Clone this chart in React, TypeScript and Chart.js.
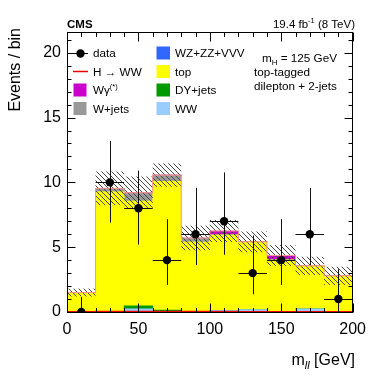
import React, { useEffect, useRef } from 'react';
import { Chart, registerables } from 'chart.js';

Chart.register(...registerables);

// ---- Data ----
const binEdges = [0, 20, 40, 60, 80, 100, 120, 140, 160, 180, 200];
const binCenters = [10, 30, 50, 70, 90, 110, 130, 150, 170, 190];
const dataCounts = [0, 10, 8, 4, 6, 7, 3, 4, 6, 1];
const dataErrUp = [1.15, 3.2, 2.9, 3.16, 3.58, 3.77, 2.9, 3.16, 3.58, 2.3];
const dataErrDown = [0, 3.1, 2.8, 1.91, 2.38, 2.58, 1.63, 1.91, 2.38, 0.83];

const wwBkg = [0.03, 0.03, 0.25, 0.05, 0.02, 0.12, 0.18, 0.05, 0.25, 0.05];
const dyJets = [0, 0.02, 0.23, 0.1, 0, 0, 0, 0, 0, 0];
const topBkg = [1.47, 9.23, 8.1, 9.95, 5.4, 5.83, 5.23, 3.97, 3.31, 2.74];
const vvBkg = [0, 0, 0, 0, 0, 0, 0, 0, 0, 0];
const wJets = [0, 0.26, 0.62, 0.46, 0.26, 0, 0, 0, 0, 0];
const wGamma = [0, 0, 0, 0, 0.03, 0.3, 0, 0.34, 0, 0];
const hwwSignal = [0.02, 0.04, 0.04, 0.03, 0.03, 0.03, 0.02, 0.02, 0.02, 0.01];
const bkgUnc = [0.3, 1.3, 1.25, 0.9, 0.95, 0.85, 0.8, 0.8, 0.7, 0.7];

const yTickValues = [0, 5, 10, 15, 20];
const xTickValues = [0, 50, 100, 150, 200];

const FONT = '"Liberation Sans", Arial, Helvetica, sans-serif';

const COLORS = {
  ww: '#99ccff',
  dy: '#009900',
  top: '#ffff00',
  vv: '#3366ff',
  wjets: '#999999',
  wgamma: '#cc00cc',
  hww: '#ee0000',
};

type Seg = [string, number, number, string?];

function richText(ctx: CanvasRenderingContext2D, x: number, y: number, segs: Seg[], align: 'left' | 'right' = 'left') {
  ctx.save();
  ctx.textAlign = 'left';
  ctx.textBaseline = 'alphabetic';
  ctx.fillStyle = '#000';
  let total = 0;
  for (const [t, s, , st] of segs) {
    ctx.font = `${st || ''} ${s}px ${FONT}`;
    total += ctx.measureText(t).width;
  }
  let cx = align === 'right' ? x - total : x;
  for (const [t, s, dy, st] of segs) {
    ctx.font = `${st || ''} ${s}px ${FONT}`;
    ctx.fillText(t, cx, y + dy);
    cx += ctx.measureText(t).width;
  }
  ctx.restore();
}

const stackSeries = [wwBkg, dyJets, topBkg, vvBkg, wJets, wGamma];

let hatchPattern: CanvasPattern | null = null;
function getHatch(ctx: CanvasRenderingContext2D) {
  if (hatchPattern) return hatchPattern;
  const p = document.createElement('canvas');
  p.width = 5;
  p.height = 5;
  const pc = p.getContext('2d')!;
  pc.strokeStyle = 'rgba(70,70,70,1)';
  pc.lineWidth = 1;
  pc.beginPath();
  pc.moveTo(-1, -1); pc.lineTo(6, 6);
  pc.moveTo(-1, 4); pc.lineTo(1, 6);
  pc.moveTo(4, -1); pc.lineTo(6, 1);
  pc.stroke();
  hatchPattern = ctx.createPattern(p, 'repeat');
  return hatchPattern!;
}

const decorPlugin = {
  id: 'cmsDecor',
  beforeDatasetDraw(chart: any, args: any) {
    if (args.index !== 0) return;
    const ctx: CanvasRenderingContext2D = chart.ctx;
    const xs = chart.scales.x;
    const ys = chart.scales.y;
    const area = chart.chartArea;
    const totals = binCenters.map((_, i) => stackSeries.reduce((s, a) => s + a[i], 0));
    ctx.save();
    ctx.beginPath();
    ctx.rect(area.left, area.top, area.right - area.left, area.bottom - area.top);
    ctx.clip();

    // uncertainty hatch
    ctx.fillStyle = getHatch(ctx);
    for (let i = 0; i < binCenters.length; i++) {
      const x0 = xs.getPixelForValue(binEdges[i]);
      const x1 = xs.getPixelForValue(binEdges[i + 1]);
      const yt = ys.getPixelForValue(totals[i] + bkgUnc[i]);
      const yb = ys.getPixelForValue(Math.max(0, totals[i] - bkgUnc[i]));
      ctx.fillRect(x0, yt, x1 - x0, yb - yt);
    }

    // stack outline
    ctx.strokeStyle = '#ff9090';
    ctx.lineWidth = 1;
    ctx.beginPath();
    ctx.moveTo(xs.getPixelForValue(binEdges[0]), ys.getPixelForValue(0));
    for (let i = 0; i < binCenters.length; i++) {
      const y = ys.getPixelForValue(totals[i]);
      ctx.lineTo(xs.getPixelForValue(binEdges[i]), y);
      ctx.lineTo(xs.getPixelForValue(binEdges[i + 1]), y);
    }
    ctx.lineTo(xs.getPixelForValue(binEdges[binEdges.length - 1]), ys.getPixelForValue(0));
    ctx.stroke();

    // H -> WW signal line
    ctx.strokeStyle = COLORS.hww;
    ctx.lineWidth = 1.5;
    ctx.beginPath();
    for (let i = 0; i < binCenters.length; i++) {
      const y = ys.getPixelForValue(hwwSignal[i]);
      if (i === 0) ctx.moveTo(xs.getPixelForValue(binEdges[i]), y);
      else ctx.lineTo(xs.getPixelForValue(binEdges[i]), y);
      ctx.lineTo(xs.getPixelForValue(binEdges[i + 1]), y);
    }
    ctx.stroke();
    ctx.restore();

    // data error bars
    ctx.save();
    ctx.strokeStyle = '#111';
    ctx.lineWidth = 1;
    for (let i = 0; i < binCenters.length; i++) {
      const cx = Math.round(xs.getPixelForValue(binCenters[i])) + 0.5;
      const cy = ys.getPixelForValue(dataCounts[i]);
      const yu = ys.getPixelForValue(dataCounts[i] + dataErrUp[i]);
      const yd = ys.getPixelForValue(dataCounts[i] - dataErrDown[i]);
      ctx.beginPath();
      ctx.moveTo(cx, yu);
      ctx.lineTo(cx, yd);
      if (dataCounts[i] > 0) {
        const ry = Math.round(cy) + 0.5;
        ctx.moveTo(xs.getPixelForValue(binEdges[i]), ry);
        ctx.lineTo(xs.getPixelForValue(binEdges[i + 1]), ry);
      }
      ctx.stroke();
    }
    ctx.restore();
  },
  afterDraw(chart: any) {
    const ctx: CanvasRenderingContext2D = chart.ctx;
    const xs = chart.scales.x;
    const ys = chart.scales.y;
    const area = chart.chartArea;
    const L = Math.round(area.left) + 0.5;
    const R = Math.round(area.right) - 0.5;
    const T = Math.round(area.top) + 0.5;
    const B = Math.round(area.bottom) + 0.5;
    ctx.save();
    ctx.strokeStyle = '#000';
    ctx.lineWidth = 1;
    ctx.beginPath();
    // y ticks
    for (let v = 0; v <= 21; v++) {
      const y = Math.round(ys.getPixelForValue(v)) + 0.5;
      const len = v % 5 === 0 ? 8 : 4;
      ctx.moveTo(L, y); ctx.lineTo(L + len, y);
      ctx.moveTo(R, y); ctx.lineTo(R - len, y);
    }
    // x ticks
    for (let v = 0; v <= 200; v += 10) {
      const x = Math.round(xs.getPixelForValue(v)) + 0.5;
      const len = v % 50 === 0 ? 9 : 4.5;
      ctx.moveTo(x, B); ctx.lineTo(x, B - len);
      ctx.moveTo(x, T); ctx.lineTo(x, T + len);
    }
    ctx.stroke();
    ctx.strokeRect(L, T, R - L, B - T);
    ctx.restore();

    // header texts
    richText(ctx, 67, 28, [['CMS', 11.5, 0, 'bold']]);
    richText(ctx, 355, 28, [['19.4 fb', 11.5, 0], ['-1', 7.5, -5], [' (8 TeV)', 11.5, 0]], 'right');

    // legend
    const fs = 11.7;
    const rows = [53, 71.5, 90, 108.5];
    ctx.save();
    // column 1
    // data
    ctx.strokeStyle = '#000';
    ctx.lineWidth = 1;
    ctx.beginPath();
    ctx.moveTo(73, rows[0] + 0.5); ctx.lineTo(88, rows[0] + 0.5);
    ctx.stroke();
    ctx.fillStyle = '#000';
    ctx.beginPath();
    ctx.arc(80.5, rows[0] + 0.5, 4.2, 0, Math.PI * 2);
    ctx.fill();
    richText(ctx, 93, rows[0] + 4.3, [['data', fs, 0]]);
    // H->WW
    ctx.strokeStyle = COLORS.hww;
    ctx.lineWidth = 1.5;
    ctx.beginPath();
    ctx.moveTo(73, rows[1]); ctx.lineTo(88, rows[1]);
    ctx.stroke();
    richText(ctx, 93, rows[1] + 4.3, [['H \u2192 WW', fs, 0]]);
    // W gamma
    ctx.fillStyle = COLORS.wgamma;
    ctx.fillRect(73.5, rows[2] - 6.5, 13, 13);
    richText(ctx, 93, rows[2] + 4.3, [['W\u03b3', fs, 0], ['(*)', 7.5, -5]]);
    // W+jets
    ctx.fillStyle = COLORS.wjets;
    ctx.fillRect(73.5, rows[3] - 6.5, 13, 13);
    richText(ctx, 93, rows[3] + 4.3, [['W+jets', fs, 0]]);
    // column 2
    const col2 = [
      [COLORS.vv, 'WZ+ZZ+VVV'],
      [COLORS.top, 'top'],
      [COLORS.dy, 'DY+jets'],
      [COLORS.ww, 'WW'],
    ];
    col2.forEach(([c, t], i) => {
      ctx.fillStyle = c;
      ctx.fillRect(156.5, rows[i] - 6.5, 13.5, 13);
      richText(ctx, 175, rows[i] + 4.3, [[t, fs, 0]]);
    });
    ctx.restore();

    richText(ctx, 262, 61.7, [['m', fs, 0], ['H', 8, 3], [' = 125 GeV', fs, 0]]);
    richText(ctx, 254, 75.5, [['top-tagged', fs, 0]]);
    richText(ctx, 254, 89.5, [['dilepton + 2-jets', fs, 0]]);

    // axis titles
    richText(ctx, 355, 365, [['m', 16, 0], ['ll', 11, 4, 'italic'], [' [GeV]', 16, 0]], 'right');
    ctx.save();
    ctx.translate(20, 28);
    ctx.rotate(-Math.PI / 2);
    ctx.font = `16px ${FONT}`;
    ctx.fillStyle = '#000';
    ctx.textAlign = 'right';
    ctx.textBaseline = 'alphabetic';
    ctx.fillText('Events / bin', 0, 0);
    ctx.restore();
  },
};

function pts(arr: number[]) {
  return binCenters.map((c, i) => ({ x: c, y: arr[i] }));
}

export default function App() {
  const ref = useRef<HTMLCanvasElement>(null);
  useEffect(() => {
    if (!ref.current) return;
    const barDs = (label: string, arr: number[], color: string) => ({
      type: 'bar' as const,
      label,
      data: pts(arr),
      backgroundColor: color,
      borderWidth: 0,
      barPercentage: 1,
      categoryPercentage: 1,
      stack: 'bkg',
    });
    const chart = new Chart(ref.current, {
      type: 'bar',
      data: {
        datasets: [
          {
            type: 'scatter',
            label: 'data',
            data: pts(dataCounts),
            pointRadius: 4.2,
            pointBackgroundColor: '#000',
            pointBorderColor: '#000',
            pointBorderWidth: 0,
            stack: 'obs',
          } as any,
          barDs('WW', wwBkg, COLORS.ww),
          barDs('DY+jets', dyJets, COLORS.dy),
          barDs('top', topBkg, COLORS.top),
          barDs('WZ+ZZ+VVV', vvBkg, COLORS.vv),
          barDs('W+jets', wJets, COLORS.wjets),
          barDs('W\u03b3(*)', wGamma, COLORS.wgamma),
        ],
      },
      options: {
        responsive: false,
        animation: false,
        devicePixelRatio: 1,
        layout: { padding: { left: 0, right: 19, top: 32, bottom: 0 } },
        plugins: { legend: { display: false }, tooltip: { enabled: false }, title: { display: false } },
        scales: {
          x: {
            type: 'linear',
            min: 0,
            max: 200,
            stacked: true,
            offset: false,
            grid: { display: false, drawTicks: false, offset: false },
            border: { display: false },
            afterBuildTicks: (s: any) => {
              s.ticks = xTickValues.map((v) => ({ value: v }));
            },
            ticks: { font: { size: 16, family: FONT }, color: '#000', padding: 8, maxRotation: 0, autoSkip: false },
            afterFit: (s: any) => {
              s.height = 80;
            },
          },
          y: {
            type: 'linear',
            min: 0,
            max: 21.6,
            stacked: true,
            grid: { display: false, drawTicks: false },
            border: { display: false },
            afterBuildTicks: (s: any) => {
              s.ticks = yTickValues.map((v) => ({ value: v }));
            },
            ticks: { font: { size: 16, family: FONT }, color: '#000', padding: 6 },
            afterFit: (s: any) => {
              s.width = 67;
            },
          },
        },
      } as any,
      plugins: [decorPlugin],
    });
    return () => chart.destroy();
  }, []);
  return (
    <div style={{ position: 'absolute', left: 0, top: 0, width: 374, height: 392, background: '#fff' }}>
      <canvas ref={ref} width={374} height={392} style={{ display: 'block' }} />
    </div>
  );
}
